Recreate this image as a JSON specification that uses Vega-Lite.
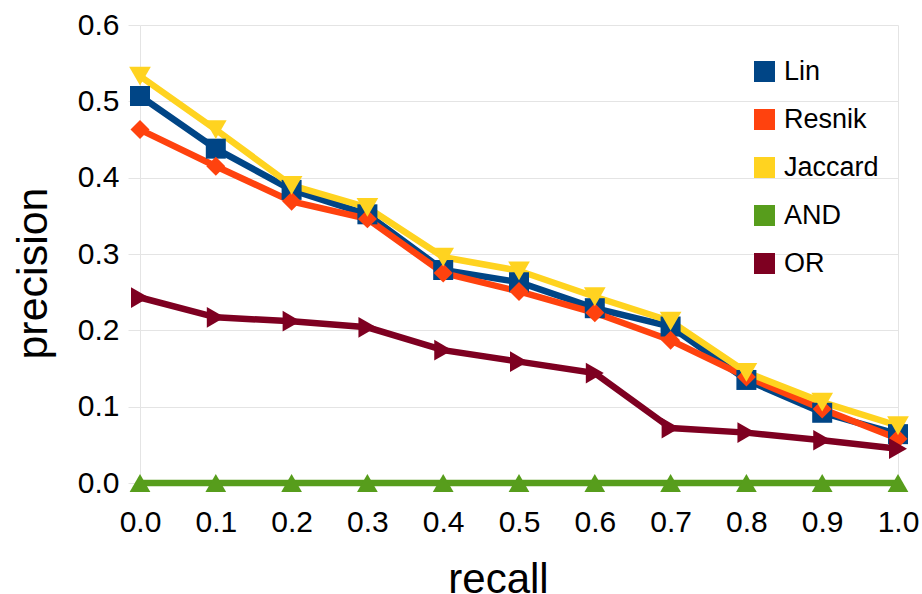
{
  "$schema": "https://vega.github.io/schema/vega-lite/v6.json",
  "width": 758,
  "height": 458,
  "autosize": {"type": "none"},
  "padding": {"left": 140, "top": 25, "right": 24, "bottom": 111},
  "background": "white",
  "config": {
    "view": {"stroke": null},
    "font": "Liberation Sans",
    "axis": {"labelFont": "Liberation Sans", "titleFont": "Liberation Sans", "labelColor": "black", "titleColor": "black", "titleFontWeight": "normal"}
  },
  "data": {
    "values": [
      {"method": "Lin", "recall": 0.0, "precision": 0.507},
      {"method": "Lin", "recall": 0.1, "precision": 0.438},
      {"method": "Lin", "recall": 0.2, "precision": 0.384},
      {"method": "Lin", "recall": 0.3, "precision": 0.352},
      {"method": "Lin", "recall": 0.4, "precision": 0.279},
      {"method": "Lin", "recall": 0.5, "precision": 0.263},
      {"method": "Lin", "recall": 0.6, "precision": 0.229},
      {"method": "Lin", "recall": 0.7, "precision": 0.205},
      {"method": "Lin", "recall": 0.8, "precision": 0.135},
      {"method": "Lin", "recall": 0.9, "precision": 0.092},
      {"method": "Lin", "recall": 1.0, "precision": 0.064},
      {"method": "Resnik", "recall": 0.0, "precision": 0.463},
      {"method": "Resnik", "recall": 0.1, "precision": 0.415},
      {"method": "Resnik", "recall": 0.2, "precision": 0.369},
      {"method": "Resnik", "recall": 0.3, "precision": 0.346},
      {"method": "Resnik", "recall": 0.4, "precision": 0.275},
      {"method": "Resnik", "recall": 0.5, "precision": 0.251},
      {"method": "Resnik", "recall": 0.6, "precision": 0.223},
      {"method": "Resnik", "recall": 0.7, "precision": 0.187},
      {"method": "Resnik", "recall": 0.8, "precision": 0.139},
      {"method": "Resnik", "recall": 0.9, "precision": 0.097},
      {"method": "Resnik", "recall": 1.0, "precision": 0.058},
      {"method": "Jaccard", "recall": 0.0, "precision": 0.533},
      {"method": "Jaccard", "recall": 0.1, "precision": 0.463},
      {"method": "Jaccard", "recall": 0.2, "precision": 0.39},
      {"method": "Jaccard", "recall": 0.3, "precision": 0.361},
      {"method": "Jaccard", "recall": 0.4, "precision": 0.296},
      {"method": "Jaccard", "recall": 0.5, "precision": 0.278},
      {"method": "Jaccard", "recall": 0.6, "precision": 0.244},
      {"method": "Jaccard", "recall": 0.7, "precision": 0.212},
      {"method": "Jaccard", "recall": 0.8, "precision": 0.145},
      {"method": "Jaccard", "recall": 0.9, "precision": 0.106},
      {"method": "Jaccard", "recall": 1.0, "precision": 0.075},
      {"method": "AND", "recall": 0.0, "precision": 0},
      {"method": "AND", "recall": 0.1, "precision": 0},
      {"method": "AND", "recall": 0.2, "precision": 0},
      {"method": "AND", "recall": 0.3, "precision": 0},
      {"method": "AND", "recall": 0.4, "precision": 0},
      {"method": "AND", "recall": 0.5, "precision": 0},
      {"method": "AND", "recall": 0.6, "precision": 0},
      {"method": "AND", "recall": 0.7, "precision": 0},
      {"method": "AND", "recall": 0.8, "precision": 0},
      {"method": "AND", "recall": 0.9, "precision": 0},
      {"method": "AND", "recall": 1.0, "precision": 0},
      {"method": "OR", "recall": 0.0, "precision": 0.243},
      {"method": "OR", "recall": 0.1, "precision": 0.217},
      {"method": "OR", "recall": 0.2, "precision": 0.212},
      {"method": "OR", "recall": 0.3, "precision": 0.204},
      {"method": "OR", "recall": 0.4, "precision": 0.174},
      {"method": "OR", "recall": 0.5, "precision": 0.159},
      {"method": "OR", "recall": 0.6, "precision": 0.144},
      {"method": "OR", "recall": 0.7, "precision": 0.072},
      {"method": "OR", "recall": 0.8, "precision": 0.066},
      {"method": "OR", "recall": 0.9, "precision": 0.056},
      {"method": "OR", "recall": 1.0, "precision": 0.045}
    ]
  },
  "encoding": {
    "x": {
      "field": "recall", "type": "quantitative",
      "scale": {"domain": [0, 1], "nice": false, "zero": false},
      "axis": {
        "title": "recall", "titleFontSize": 42, "titleX": 358, "titleY": 109, "titleBaseline": "alphabetic", "titleAnchor": null,
        "values": [0, 0.1, 0.2, 0.3, 0.4, 0.5, 0.6, 0.7, 0.8, 0.9, 1],
        "format": ".1f", "labelFontSize": 30, "labelPadding": 24, "ticks": false, "domain": false,
        "labelFlush": false, "labelOverlap": false,
        "grid": true,
        "gridColor": {"condition": {"test": "datum.value === 0 || datum.value === 1", "value": "#e4e4e4"}, "value": "transparent"}
      }
    },
    "y": {
      "field": "precision", "type": "quantitative",
      "scale": {"domain": [0, 0.6], "nice": false},
      "axis": {
        "title": "precision", "titleFontSize": 43, "titleX": -94, "titleY": 248, "titleAngle": -90, "titleBaseline": "alphabetic", "titleAlign": "center", "titleAnchor": null,
        "values": [0, 0.1, 0.2, 0.3, 0.4, 0.5, 0.6],
        "format": ".1f", "labelFontSize": 30, "labelPadding": 9,
        "ticks": true, "tickSize": 12, "tickColor": "#e4e4e4",
        "domain": false, "labelFlush": false,
        "grid": true, "gridColor": "#e4e4e4"
      }
    },
    "color": {
      "field": "method", "type": "nominal",
      "scale": {"domain": ["Lin", "Resnik", "Jaccard", "AND", "OR"], "range": ["#004586", "#ff420e", "#ffd320", "#579d1c", "#7e0021"]},
      "legend": {
        "title": null, "orient": "none", "legendX": 611, "legendY": 33, "padding": 0,
        "symbolType": "square", "symbolSize": 440, "symbolStrokeWidth": 0, "symbolOpacity": 1,
        "labelFontSize": 27, "labelFont": "Liberation Sans", "labelColor": "black", "labelOffset": 6, "rowPadding": 20
      }
    }
  },
  "layer": [
    {
      "mark": {"type": "line", "strokeWidth": 6.5, "strokeJoin": "miter"},
      "encoding": {"order": {"field": "recall"}}
    },
    {
      "transform": [{"filter": "datum.method === 'Lin'"}],
      "mark": {"type": "point", "filled": true, "opacity": 1, "strokeWidth": 0, "shape": "square", "size": 400}
    },
    {
      "transform": [{"filter": "datum.method === 'Resnik'"}],
      "mark": {"type": "point", "filled": true, "opacity": 1, "strokeWidth": 0, "shape": "diamond", "size": 360}
    },
    {
      "transform": [{"filter": "datum.method === 'Jaccard'"}],
      "mark": {"type": "point", "filled": true, "opacity": 1, "strokeWidth": 0, "shape": "triangle-down", "size": 470}
    },
    {
      "transform": [{"filter": "datum.method === 'AND'"}],
      "mark": {"type": "point", "filled": true, "opacity": 1, "strokeWidth": 0, "shape": "triangle-up", "size": 430}
    },
    {
      "transform": [{"filter": "datum.method === 'OR'"}],
      "mark": {"type": "point", "filled": true, "opacity": 1, "strokeWidth": 0, "shape": "triangle-right", "size": 430}
    }
  ]
}
